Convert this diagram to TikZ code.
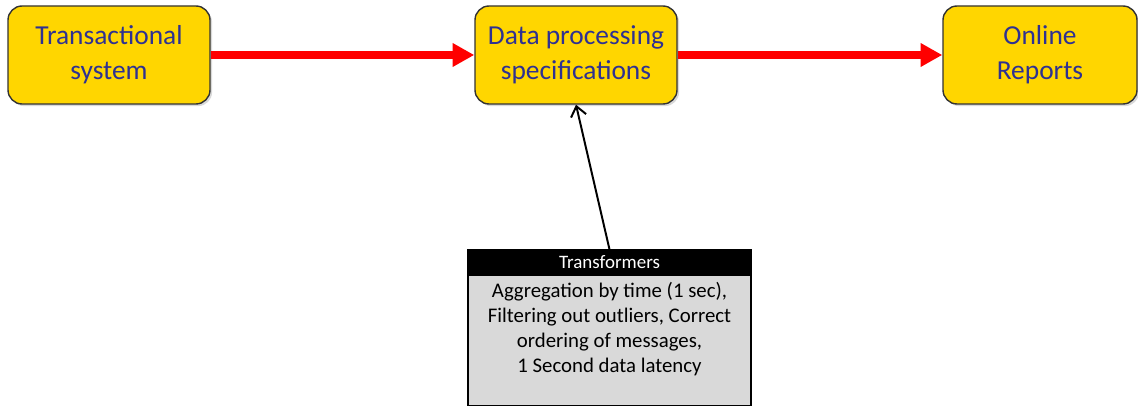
\documentclass[tikz,border=0pt]{standalone}
\usepackage{fontspec}
\setmainfont{Carlito}
\usetikzlibrary{arrows.meta,positioning,shadows}
\definecolor{stagefill}{RGB}{255,214,0}
\definecolor{stagetext}{RGB}{46,49,146}
\definecolor{notefill}{RGB}{217,217,217}

\begin{document}
\begin{tikzpicture}[
    stage/.style={draw=black!80, line width=1pt, rounded corners=10pt, fill=stagefill,
      minimum width=5.05cm, minimum height=2.45cm, align=center, text=stagetext,
      font=\fontsize{19.5}{25}\selectfont,
      drop shadow={shadow xshift=1.5pt, shadow yshift=-1.5pt, opacity=0.3}},
    flow/.style={red, line width=5pt, -{Triangle[length=15.5pt,width=16pt]}},
    notehead/.style={draw=black, fill=black, text=white, line width=0.8pt,
      minimum width=7.075cm, minimum height=0.6cm, inner sep=0pt,
      font=\fontsize{13.5}{15}\selectfont},
    notebody/.style={draw=black, fill=notefill, line width=0.8pt, inner sep=0pt,
      font=\fontsize{14.8}{17.8}\selectfont}
  ]
    \useasboundingbox (0,0) rectangle (28.45,-10.2);
    \node[stage] (trans) at (2.725,-1.375) {Transactional\\system};
    \node[stage] (spec) at (14.4,-1.375) {Data processing\\specifications};
    \node[stage, minimum width=4.85cm] (reports) at (26.0,-1.375) {Online\\Reports};
    \draw[flow] (trans) -- (spec);
    \draw[flow] (spec) -- (reports);
    \node[notehead] (hdr) at (15.2375,-6.55) {Transformers};
    \node[notebody, below=0pt of hdr] (body) {\parbox[c][3.26cm][t]{7.075cm}{\centering\vspace*{5pt}
      Aggregation by time (1 sec),\\Filtering out outliers, Correct\\ordering of messages,\\1 Second data latency}};
    \draw[line width=1.4pt, -{Straight Barb[length=7pt,width=11pt]}] (hdr.north) -- (spec.south);
  \end{tikzpicture}
\end{document}
